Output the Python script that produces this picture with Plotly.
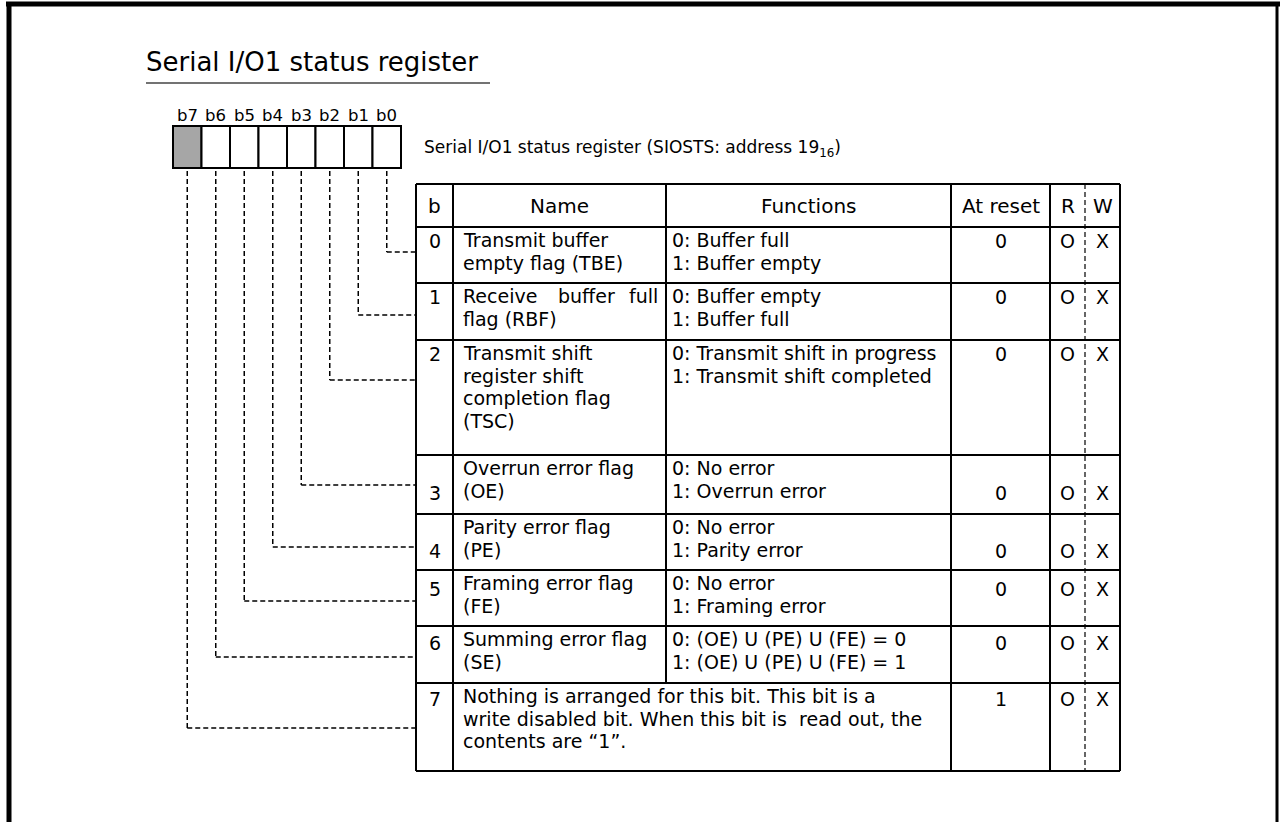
import plotly.graph_objects as go

# ---------------- data ----------------
title_text = "Serial I/O1 status register"
bit_labels = ["b7", "b6", "b5", "b4", "b3", "b2", "b1", "b0"]
reg_desc = "Serial I/O1 status register (SIOSTS: address 19<sub>16</sub>)"
headers = ["b", "Name", "Functions", "At reset", "R", "W"]
row_bits = ["0", "1", "2", "3", "4", "5", "6", "7"]
names = [
    ["Transmit buffer", "empty flag (TBE)"],
    ["Receive buffer full", "flag (RBF)"],
    ["Transmit shift", "register shift", "completion flag", "(TSC)"],
    ["Overrun error flag", "(OE)"],
    ["Parity error flag", "(PE)"],
    ["Framing error flag", "(FE)"],
    ["Summing error flag", "(SE)"],
    ["Nothing is arranged for this bit. This bit is a",
     "write disabled bit. When this bit is\u00a0 read out, the",
     "contents are \u201c1\u201d."],
]
functions = [
    ["0: Buffer full", "1: Buffer empty"],
    ["0: Buffer empty", "1: Buffer full"],
    ["0: Transmit shift in progress", "1: Transmit shift completed"],
    ["0: No error", "1: Overrun error"],
    ["0: No error", "1: Parity error"],
    ["0: No error", "1: Framing error"],
    ["0: (OE) U (PE) U (FE) = 0", "1: (OE) U (PE) U (FE) = 1"],
    [],
]
at_reset = ["0", "0", "0", "0", "0", "0", "0", "1"]
read_ok = ["O"] * 8
write_ok = ["X"] * 8

# ---------------- layout geometry ----------------
FONT = "DejaVu Sans, Verdana, sans-serif"
BODY = 19
HEAD = 20
col_x = [416, 453, 666, 951, 1050, 1120]
rw_split = 1085
row_y = [184, 227, 283, 340, 455, 514, 570, 626, 683, 771]
line_gap = 22.5
first_dy = 13
mark_dy = [14, 14, 14, 38, 37, 19, 17, 16]   # vertical offset of b/reset/R/W marks
box_x0, box_w, box_y0, box_y1 = 173, 28.5, 126, 168
conn_dy = [25, 32, 40, 30, 33, 31, 31, 45]

shapes = []
ann = []

def line(x0, y0, x1, y1, w=2, color="black", dash=None):
    d = dict(type="line", x0=x0, y0=y0, x1=x1, y1=y1, xref="x", yref="y",
             line=dict(color=color, width=w))
    if dash:
        d["line"]["dash"] = dash
    shapes.append(d)

def text(x, y, s, size=BODY, anchor="left"):
    ann.append(dict(x=x, y=y, xref="x", yref="y", text=s, showarrow=False,
                    xanchor=anchor, yanchor="middle",
                    font=dict(family=FONT, size=size, color="black")))

# frame
line(6, 4, 1280, 4, w=5)
line(9, 2, 9, 822, w=5)
line(1277, 2, 1277, 822, w=3)

# title
text(144, 62, title_text, size=26)
line(146, 83, 490, 83, w=1.5, color="#444")

# register boxes
for i, lab in enumerate(bit_labels):
    x0 = box_x0 + i * box_w
    shapes.append(dict(type="rect", x0=x0, x1=x0 + box_w, y0=box_y0, y1=box_y1,
                       xref="x", yref="y", line=dict(color="black", width=2),
                       fillcolor="#a6a6a6" if i == 0 else "white"))
    text(x0 + box_w / 2, 115, lab, size=16.5, anchor="center")
text(422, 148, reg_desc, size=17)

# connectors (bit i of register -> row i of table)
for r in range(8):
    bi = 7 - r
    cx = box_x0 + bi * box_w + box_w / 2
    cy = row_y[r + 1] + conn_dy[r]
    line(cx, box_y1 + 3, cx, cy, w=1.5, dash="5px,3px")
    line(cx, cy, col_x[0], cy, w=1.5, dash="5px,3px")

# table grid
for y in row_y:
    line(col_x[0], y, col_x[-1], y)
for k, x in enumerate(col_x):
    if k == 2:
        line(x, row_y[0], x, row_y[-2])
    else:
        line(x, row_y[0], x, row_y[-1])
line(rw_split, row_y[0], rw_split, row_y[-1], w=1.2, dash="5px,3px")

# header
hy = (row_y[0] + row_y[1]) / 2
text((col_x[0] + col_x[1]) / 2, hy, headers[0], size=HEAD, anchor="center")
text((col_x[1] + col_x[2]) / 2, hy, headers[1], size=HEAD, anchor="center")
text((col_x[2] + col_x[3]) / 2, hy, headers[2], size=HEAD, anchor="center")
text((col_x[3] + col_x[4]) / 2, hy, headers[3], size=HEAD, anchor="center")
text((col_x[4] + rw_split) / 2, hy, headers[4], size=HEAD, anchor="center")
text((rw_split + col_x[5]) / 2, hy, headers[5], size=HEAD, anchor="center")

# rows
for r in range(8):
    top = row_y[r + 1]
    my = top + mark_dy[r]
    text((col_x[0] + col_x[1]) / 2, my, row_bits[r], anchor="center")
    text((col_x[3] + col_x[4]) / 2, my, at_reset[r], anchor="center")
    text((col_x[4] + rw_split) / 2, my, read_ok[r], anchor="center")
    text((rw_split + col_x[5]) / 2, my, write_ok[r], anchor="center")
    for j, s in enumerate(names[r]):
        y = top + first_dy + j * line_gap
        if r == 1 and j == 0:
            words = s.split(" ")
            text(col_x[1] + 8, y, words[0])
            text(556, y, words[1])
            text(col_x[2] - 6, y, words[2], anchor="right")
        else:
            text(col_x[1] + 8, y, s)
    for j, s in enumerate(functions[r]):
        text(col_x[2] + 4, top + first_dy + j * line_gap, s)

fig = go.Figure()
fig.update_layout(
    width=1280, height=822,
    margin=dict(l=0, r=0, t=0, b=0),
    paper_bgcolor="white", plot_bgcolor="white",
    xaxis=dict(range=[0, 1280], visible=False, fixedrange=True),
    yaxis=dict(range=[822, 0], visible=False, fixedrange=True),
    shapes=shapes, annotations=ann, showlegend=False,
)
fig.write_html(
    "out.html",
    config={"displayModeBar": False},
    post_script="document.body.style.margin='0px';document.body.style.overflow='hidden';",
)
